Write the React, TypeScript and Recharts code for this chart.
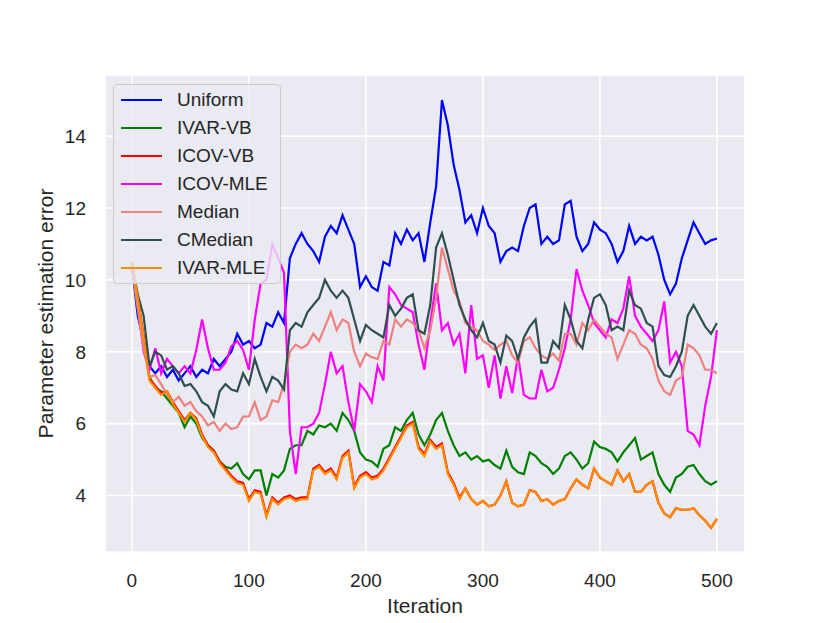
import { LineChart, Line, XAxis, YAxis, CartesianGrid, Legend } from 'recharts';

// iteration index of each sample (every 5th iteration)
const ITERATIONS = [
    0, 5, 10, 15, 20, 25, 30, 35, 40, 45,
    50, 55, 60, 65, 70, 75, 80, 85, 90, 95,
    100, 105, 110, 115, 120, 125, 130, 135, 140, 145,
    150, 155, 160, 165, 170, 175, 180, 185, 190, 195,
    200, 205, 210, 215, 220, 225, 230, 235, 240, 245,
    250, 255, 260, 265, 270, 275, 280, 285, 290, 295,
    300, 305, 310, 315, 320, 325, 330, 335, 340, 345,
    350, 355, 360, 365, 370, 375, 380, 385, 390, 395,
    400, 405, 410, 415, 420, 425, 430, 435, 440, 445,
    450, 455, 460, 465, 470, 475, 480, 485, 490, 495,
    500,
];

const UNIFORM = [
    10.4, 9.0, 8.3, 7.6, 7.4, 7.6, 7.3, 7.5, 7.2, 7.4,
    7.6, 7.3, 7.5, 7.4, 7.8, 7.6, 7.8, 8.0, 8.5, 8.2,
    8.3, 8.1, 8.2, 8.8, 8.7, 9.1, 8.8, 10.6, 11.0, 11.3,
    11.0, 10.8, 10.5, 11.2, 11.5, 11.3, 11.8, 11.4, 11.0, 9.8,
    10.1, 9.8, 9.7, 10.5, 10.4, 11.3, 11.0, 11.4, 11.1, 11.3,
    10.5, 11.6, 12.6, 15.0, 14.3, 13.2, 12.5, 11.6, 11.8, 11.3,
    12.0, 11.5, 11.3, 10.5, 10.8, 10.9, 10.8, 11.5, 12.0, 12.1,
    11.0, 11.2, 11.0, 11.1, 12.1, 12.2, 11.2, 10.8, 11.0, 11.6,
    11.4, 11.3, 11.0, 10.5, 10.8, 11.5, 11.0, 11.2, 11.1, 11.2,
    10.7, 10.0, 9.6, 9.9, 10.6, 11.1, 11.6, 11.3, 11.0, 11.1,
    11.15,
];

const IVAR_VB = [
    10.4, 9.2, 8.4, 7.3, 7.0, 6.9, 6.7, 6.5, 6.3, 5.9,
    6.2, 6.0, 5.6, 5.4, 5.25, 4.95, 4.8, 4.75, 4.9, 4.6,
    4.45, 4.7, 4.7, 4.0, 4.6, 4.5, 4.7, 5.3, 5.4, 5.4,
    5.8, 5.7, 5.95, 5.9, 6.0, 5.8, 6.3, 6.1, 5.8, 5.2,
    5.0, 4.95, 4.8, 5.3, 5.4, 5.9, 5.8, 6.1, 6.3, 5.7,
    5.4, 5.7, 6.1, 6.3, 5.8, 5.4, 5.1, 5.2, 5.0, 5.1,
    4.95, 5.0, 4.85, 4.75, 5.25, 4.8, 4.65, 4.6, 5.2, 5.1,
    4.9, 4.8, 4.6, 4.75, 5.1, 5.2, 5.0, 4.75, 4.9, 5.5,
    5.35, 5.3, 5.2, 4.95, 5.2, 5.4, 5.6, 5.0, 5.1, 5.2,
    4.6, 4.3, 4.1, 4.5, 4.6, 4.8, 4.85, 4.6, 4.4, 4.3,
    4.4,
];

const ICOV_VB = [
    10.5, 9.5, 8.45, 7.25, 7.05, 6.85, 6.9, 6.6, 6.35, 6.1,
    6.3, 6.15, 5.7, 5.4, 5.25, 4.95, 4.75, 4.55, 4.4, 4.35,
    3.9, 4.15, 4.1, 3.45, 3.95, 3.8, 3.95, 4.0, 3.9, 3.95,
    3.95, 4.75, 4.85, 4.65, 4.75, 4.5, 5.1, 5.25, 4.25, 4.55,
    4.65, 4.5, 4.55, 4.75, 5.05, 5.35, 5.65, 5.95, 6.05, 5.35,
    5.15, 5.55, 5.35, 5.45, 4.65, 4.35, 3.95, 4.2, 3.9, 3.75,
    3.85, 3.7, 3.75, 4.0, 4.4, 3.8, 3.7, 3.75, 4.15, 4.1,
    3.85, 3.9, 3.75, 3.85, 3.9, 4.2, 4.45, 4.3, 4.2, 4.75,
    4.5, 4.4, 4.3, 4.7, 4.4, 4.6, 4.1, 4.1, 4.3, 4.4,
    3.8, 3.5, 3.4, 3.65, 3.6, 3.6, 3.65, 3.45, 3.3, 3.1,
    3.35,
];

const ICOV_MLE = [
    10.4, 9.3, 8.0, 7.5, 8.1, 7.4, 7.8, 7.6, 7.4, 7.6,
    7.4, 8.05, 8.9, 8.1, 7.5, 7.5, 7.7, 8.15, 8.3, 8.05,
    7.5, 8.9, 9.9, 10.0, 11.0, 10.6, 10.2, 5.8, 4.6, 5.9,
    5.9, 6.0, 6.3, 7.1, 8.0, 7.4, 7.6, 6.6, 5.8, 7.1,
    6.9, 6.6, 7.6, 7.2, 9.8, 9.6, 9.3, 9.2, 9.1, 8.2,
    7.5, 8.8, 9.9, 8.6, 8.8, 8.2, 8.5, 7.4, 9.3, 7.8,
    7.9, 7.0, 7.9, 6.7, 7.6, 6.85, 7.9, 6.8, 6.7, 6.7,
    7.5, 6.9, 7.0, 7.5, 8.1, 8.9, 10.3, 9.7, 9.3, 8.8,
    8.6, 8.4, 8.9, 8.8, 9.2, 10.1, 9.0, 8.7, 8.5, 8.3,
    8.6, 9.4, 7.7, 8.0, 7.6, 5.8, 5.7, 5.4, 6.5, 7.3,
    8.6,
];

const MEDIAN = [
    10.4, 9.2, 8.1, 7.3, 7.35, 7.1, 6.8, 6.6, 6.75, 6.5,
    6.6, 6.35, 6.2, 5.95, 6.05, 5.8, 6.0, 5.85, 5.9, 6.2,
    6.2, 6.6, 6.1, 6.2, 6.65, 6.6, 7.1, 8.0, 8.2, 8.1,
    8.2, 8.5, 8.3, 8.7, 9.1, 8.6, 8.9, 8.8, 8.0, 7.6,
    7.95, 7.85, 7.8, 8.3, 8.2, 8.9, 8.7, 8.9, 8.8, 8.6,
    8.1, 8.6, 9.5, 10.9, 10.3, 9.7, 9.4, 8.8, 8.7, 8.6,
    8.3, 8.2, 8.05, 8.2, 8.3, 7.9, 7.7, 8.3, 8.4, 8.1,
    7.9, 7.8, 7.95, 7.75, 8.5, 8.5, 8.2, 8.8, 8.6, 8.9,
    8.7, 8.5, 8.4, 7.8, 8.2, 8.6, 8.5, 8.2, 8.1, 7.8,
    7.2, 6.9, 6.8, 7.2, 7.3, 8.2, 8.1, 7.9, 7.5, 7.5,
    7.4,
];

const CMEDIAN = [
    10.4, 9.6, 9.0, 7.6, 8.0, 7.9, 7.5, 7.6, 7.4, 7.05,
    7.1, 6.9, 6.6, 6.5, 6.2, 6.9, 7.1, 6.95, 6.9, 7.4,
    7.1, 7.8, 7.3, 6.9, 7.3, 7.2, 6.95, 8.6, 8.8, 8.7,
    9.1, 9.3, 9.5, 10.0, 9.7, 9.5, 9.7, 9.5, 8.9, 8.3,
    8.75, 8.6, 8.5, 8.4, 9.3, 9.0, 9.2, 9.5, 9.6, 8.6,
    8.5, 9.3, 10.9, 11.3, 10.7, 10.0, 9.3, 8.9, 8.6, 8.4,
    8.8, 8.3, 8.2, 7.7, 8.45, 8.3, 7.8, 8.4, 8.7, 8.9,
    7.7, 7.7, 8.3, 8.1, 9.3, 8.9, 8.3, 8.1, 8.9, 9.5,
    9.6, 9.3, 8.6, 8.7, 8.6, 9.7, 9.3, 9.2, 8.8, 8.7,
    7.6, 7.35, 7.3, 7.6, 8.0, 9.0, 9.3, 9.0, 8.7, 8.5,
    8.8,
];

const IVAR_MLE = [
    10.5, 9.5, 8.4, 7.2, 7.0, 6.8, 6.9, 6.55, 6.3, 6.05,
    6.3, 6.1, 5.65, 5.35, 5.2, 4.9, 4.7, 4.5, 4.35, 4.3,
    3.85, 4.1, 4.05, 3.4, 3.9, 3.75, 3.9, 3.95, 3.85, 3.9,
    3.9, 4.7, 4.8, 4.6, 4.7, 4.45, 5.05, 5.2, 4.2, 4.5,
    4.6, 4.45, 4.5, 4.7, 5.0, 5.3, 5.6, 5.9, 6.0, 5.3,
    5.1, 5.5, 5.3, 5.4, 4.6, 4.3, 3.9, 4.2, 3.9, 3.75,
    3.85, 3.7, 3.75, 4.0, 4.4, 3.8, 3.7, 3.75, 4.15, 4.1,
    3.85, 3.9, 3.75, 3.85, 3.9, 4.2, 4.45, 4.3, 4.2, 4.75,
    4.5, 4.4, 4.3, 4.7, 4.4, 4.6, 4.1, 4.1, 4.3, 4.4,
    3.8, 3.5, 3.4, 3.65, 3.6, 3.6, 3.65, 3.45, 3.3, 3.1,
    3.35,
];

const X_TICKS = [0, 100, 200, 300, 400, 500];
const Y_TICKS = [4, 6, 8, 10, 12, 14];

const SERIES = [
    { key: 'uniform', name: 'Uniform', color: '#0000FF', values: UNIFORM },
    { key: 'ivarVb', name: 'IVAR-VB', color: '#008000', values: IVAR_VB },
    { key: 'icovVb', name: 'ICOV-VB', color: '#FF0000', values: ICOV_VB },
    { key: 'icovMle', name: 'ICOV-MLE', color: '#FF00FF', values: ICOV_MLE },
    { key: 'median', name: 'Median', color: '#F08080', values: MEDIAN },
    { key: 'cmedian', name: 'CMedian', color: '#2F4F4F', values: CMEDIAN },
    { key: 'ivarMle', name: 'IVAR-MLE', color: '#FF8C00', values: IVAR_MLE },
];

const TEXT_COLOR = '#262626';

const chartData = ITERATIONS.map((iter, k) => {
    const row: Record<string, number> = { iter };
    SERIES.forEach(s => { row[s.key] = s.values[k]; });
    return row;
});

function LegendBox() {
    return (
        <div style={{
            width: 166,
            padding: '1px 0',
            background: 'rgba(234, 234, 242, 0.8)',
            border: '1px solid #CCCCCC',
            borderRadius: 4,
        }}>
            {SERIES.map(s => (
                <div key={s.key} style={{ display: 'flex', alignItems: 'center', height: 28 }}>
                    <span style={{
                        display: 'inline-block',
                        marginLeft: 7,
                        width: 41,
                        height: 2.5,
                        background: s.color,
                    }} />
                    <span style={{ marginLeft: 15, fontSize: 19, color: TEXT_COLOR, lineHeight: '28px' }}>
                        {s.name}
                    </span>
                </div>
            ))}
        </div>
    );
}

export default function App() {
    return (
        <div style={{
            position: 'absolute',
            left: 0,
            top: 0,
            width: 830,
            height: 623,
            background: '#FFFFFF',
            fontFamily: "'Liberation Sans', Arial, sans-serif",
        }}>
            <LineChart
                width={830}
                height={623}
                data={chartData}
                margin={{ top: 75, right: 85, left: 45, bottom: 5 }}
            >
                <CartesianGrid fill="#EAEAF2" fillOpacity={1} stroke="#FFFFFF" strokeWidth={1.6} />
                <XAxis
                    type="number"
                    dataKey="iter"
                    domain={[-23, 524]}
                    ticks={X_TICKS}
                    allowDataOverflow
                    axisLine={false}
                    tickLine={false}
                    tickSize={0}
                    tickMargin={22}
                    height={66}
                    tick={{ fontSize: 19, fill: TEXT_COLOR }}
                    label={{
                        content: (props: any) => {
                            const vb = props.viewBox;
                            return (
                                <text
                                    x={vb.x + vb.width / 2}
                                    y={vb.y + 61}
                                    textAnchor="middle"
                                    fontSize={21}
                                    fill={TEXT_COLOR}
                                >
                                    Iteration
                                </text>
                            );
                        },
                    }}
                />
                <YAxis
                    type="number"
                    domain={[2.43, 15.7]}
                    ticks={Y_TICKS}
                    allowDataOverflow
                    axisLine={false}
                    tickLine={false}
                    tickSize={0}
                    tickMargin={19}
                    width={60}
                    tick={{ fontSize: 19, fill: TEXT_COLOR }}
                    label={{
                        content: (props: any) => {
                            const vb = props.viewBox;
                            const cx = vb.x + 8;
                            const cy = vb.y + vb.height / 2;
                            return (
                                <text
                                    x={cx}
                                    y={cy}
                                    transform={`rotate(-90 ${cx} ${cy})`}
                                    textAnchor="middle"
                                    fontSize={21}
                                    fill={TEXT_COLOR}
                                >
                                    Parameter estimation error
                                </text>
                            );
                        },
                    }}
                />
                {SERIES.map(s => (
                    <Line
                        key={s.key}
                        type="linear"
                        dataKey={s.key}
                        name={s.name}
                        stroke={s.color}
                        strokeWidth={2.2}
                        dot={false}
                        activeDot={false}
                        isAnimationActive={false}
                    />
                ))}
                <Legend
                    layout="vertical"
                    align="center"
                    verticalAlign="middle"
                    content={() => <LegendBox />}
                    wrapperStyle={{ left: 113, top: 84, width: 168, margin: 0, padding: 0 }}
                />
            </LineChart>
        </div>
    );
}
